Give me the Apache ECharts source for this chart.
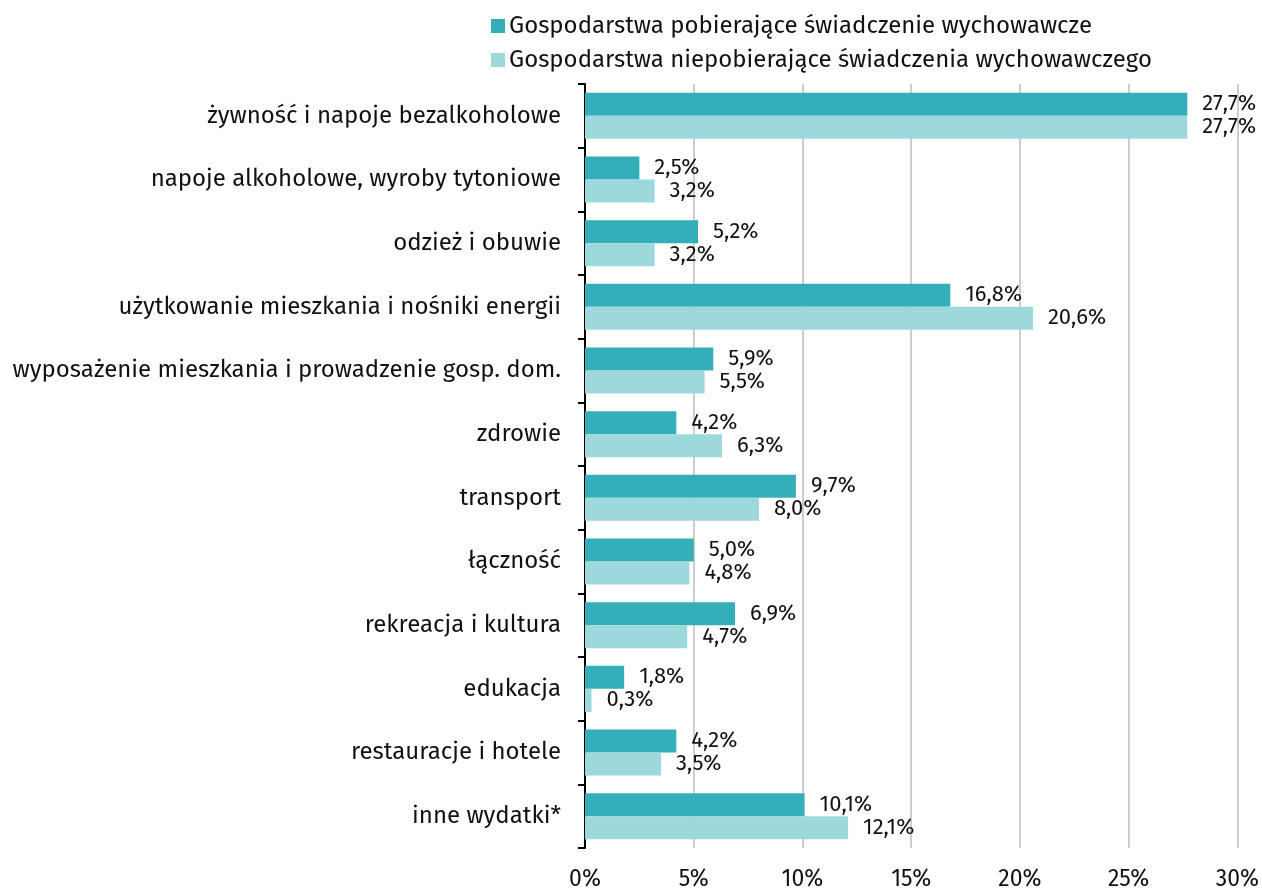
<!DOCTYPE html>
<html>
<head>
<meta charset="utf-8">
<script src="https://cdn.jsdelivr.net/npm/echarts@6/dist/echarts.min.js"></script>
<style>
    html, body { margin: 0; padding: 0; background: #fff; }
    #chart { width: 1262px; height: 891px; }
</style>
</head>
<body>
<div id="chart"></div>
<script>
const categories = [
    'żywność i napoje bezalkoholowe',
    'napoje alkoholowe, wyroby tytoniowe',
    'odzież i obuwie',
    'użytkowanie mieszkania i nośniki energii',
    'wyposażenie mieszkania i prowadzenie gosp. dom.',
    'zdrowie',
    'transport',
    'łączność',
    'rekreacja i kultura',
    'edukacja',
    'restauracje i hotele',
    'inne wydatki*'
]
const pobierajace = [27.7, 2.5, 5.2, 16.8, 5.9, 4.2, 9.7, 5.0, 6.9, 1.8, 4.2, 10.1]
const niepobierajace = [27.7, 3.2, 3.2, 20.6, 5.5, 6.3, 8.0, 4.8, 4.7, 0.3, 3.5, 12.1]
const seriesNames = [
    'Gospodarstwa pobierające świadczenie wychowawcze',
    'Gospodarstwa niepobierające świadczenia wychowawczego'
]

const font = '"Fira Sans", "Noto Sans", sans-serif'
const pct = (v) => v.toFixed(1).replace('.', ',') + '%'

const myChart = echarts.init(document.getElementById('chart'))
myChart.setOption({
    animation: false,
    textStyle: { fontFamily: font },
    legend: {
        orient: 'vertical',
        left: 486,
        top: 9,
        itemWidth: 14,
        itemHeight: 14,
        itemGap: 10,
        icon: 'rect',
        textStyle: { fontSize: 24, color: '#111', fontFamily: font, padding: [0, 0, 0, -1] },
        data: seriesNames
    },
    grid: {
        left: 585,
        right: 19,
        top: 84,
        bottom: 41,
        containLabel: false
    },
    xAxis: {
        type: 'value',
        min: 0,
        max: 30,
        interval: 5,
        axisLine: { show: false },
        axisTick: { show: false },
        splitLine: { show: true, lineStyle: { color: '#bdbdbd', width: 1.5 } },
        axisLabel: {
            formatter: (v) => v + '%',
            fontSize: 23,
            color: '#111',
            margin: 20,
            fontFamily: font
        }
    },
    yAxis: {
        type: 'category',
        inverse: true,
        data: categories,
        axisLine: { show: true, lineStyle: { color: '#000', width: 2 } },
        axisTick: { show: true, length: 7, lineStyle: { color: '#000', width: 2 } },
        axisLabel: {
            fontSize: 24,
            color: '#111',
            margin: 24,
            fontFamily: font
        }
    },
    series: [
        {
            name: seriesNames[0],
            type: 'bar',
            data: pobierajace,
            barWidth: 23,
            barGap: '0%',
            itemStyle: { color: '#34aeb8' },
            label: {
                show: true,
                position: 'right',
                distance: 15,
                formatter: (p) => pct(p.value),
                fontSize: 22,
                color: '#111',
                fontFamily: font
            }
        },
        {
            name: seriesNames[1],
            type: 'bar',
            data: niepobierajace,
            barWidth: 23,
            barGap: '0%',
            itemStyle: { color: '#9cd8dc' },
            label: {
                show: true,
                position: 'right',
                distance: 15,
                formatter: (p) => pct(p.value),
                fontSize: 22,
                color: '#111',
                fontFamily: font
            }
        }
    ]
})
</script>
</body>
</html>
